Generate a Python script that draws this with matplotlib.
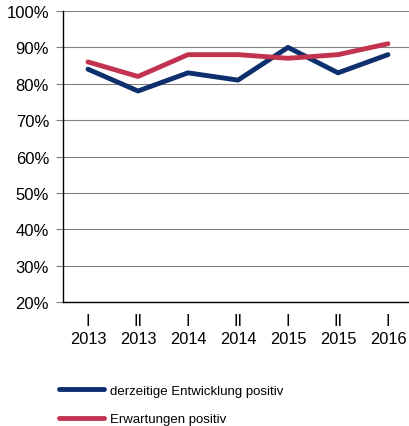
import numpy as np
import matplotlib.pyplot as plt

plt.rcParams['font.family'] = ['Liberation Sans', 'DejaVu Sans']

categories = ['I\n2013', 'II\n2013', 'I\n2014', 'II\n2014', 'I\n2015', 'II\n2015', 'I\n2016']
derzeitig = [84, 78, 83, 81, 90, 83, 88]
erwartung = [86, 82, 88, 88, 87, 88, 91]

W, H = 409, 427
fig = plt.figure(figsize=(W/100, H/100), dpi=100)
ax = fig.add_axes([63/W, 1-303/H, 350/W, 291/H])

x = np.arange(len(categories))
ax.plot(x, derzeitig, color='#0d2f6e', lw=3.5, solid_capstyle='round',
        label='derzeitige Entwicklung positiv')
ax.plot(x, erwartung, color='#c23350', lw=3.5, solid_capstyle='round',
        label='Erwartungen positiv')

ax.set_xlim(-0.5, 6.5)
ax.set_ylim(20, 100)
ax.set_yticks(range(20, 101, 10))
ax.set_yticklabels([f'{v}%' for v in range(20, 101, 10)], fontsize=12)
ax.set_xticks(x)
ax.set_xticklabels(categories, fontsize=11.8, linespacing=1.25)
ax.tick_params(axis='x', length=0, pad=8)
ax.tick_params(axis='y', length=5, width=0.8, color='#808080', pad=5)
ax.grid(axis='y', color='#808080', lw=0.8)
ax.set_axisbelow(True)
for s in ['top', 'right']:
    ax.spines[s].set_visible(False)
for s in ['left', 'bottom']:
    ax.spines[s].set_color('black')
    ax.spines[s].set_linewidth(1.0)
ax.set_zorder(1)

fig.legend(loc='upper left', bbox_to_anchor=(47/W, 1-374/H), frameon=False,
           fontsize=9.5, handlelength=3.4, handletextpad=0.45, labelspacing=1.2)

fig.savefig('out.png', dpi=100)
